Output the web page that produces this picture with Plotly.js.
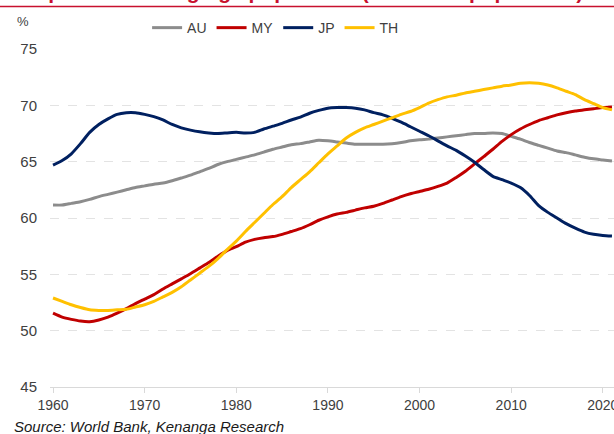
<!DOCTYPE html>
<html>
<head>
<meta charset="utf-8">
<script src="https://cdn.plot.ly/plotly-3.0.1.min.js"></script>
<style>
  html, body { margin: 0; padding: 0; background: #fff; }
  #chart { width: 614px; height: 434px; }
</style>
</head>
<body>
<div id="chart"></div>
<script>
// Years 1960..2021
const years = [];
for (let y = 1960; y <= 2021; y++) years.push(y);

const AU = [61.15,61.15,61.3,61.45,61.65,61.9,62.1,62.3,62.5,62.7,
            62.85,63.0,63.1,63.3,63.55,63.8,64.1,64.4,64.75,65.0,
            65.2,65.4,65.6,65.85,66.1,66.3,66.5,66.6,66.75,66.9,
            66.85,66.75,66.65,66.55,66.55,66.55,66.55,66.6,66.7,66.85,
            66.95,67.0,67.1,67.2,67.3,67.4,67.5,67.5,67.55,67.5,
            67.25,67.0,66.7,66.45,66.2,65.95,65.8,65.6,65.4,65.25,
            65.15,65.05];

const MY = [51.55,51.2,51.0,50.85,50.8,50.95,51.2,51.55,51.95,52.4,
            52.8,53.2,53.7,54.15,54.6,55.05,55.55,56.05,56.6,57.1,
            57.45,57.85,58.1,58.25,58.35,58.55,58.8,59.05,59.4,59.8,
            60.1,60.35,60.5,60.7,60.9,61.05,61.3,61.6,61.9,62.15,
            62.35,62.55,62.8,63.1,63.6,64.15,64.8,65.45,66.1,66.8,
            67.4,67.9,68.3,68.65,68.9,69.15,69.35,69.5,69.6,69.7,
            69.8,69.85];

const JP = [64.7,65.1,65.7,66.6,67.6,68.3,68.8,69.2,69.35,69.35,
            69.2,69.0,68.7,68.3,68.0,67.8,67.65,67.55,67.5,67.55,
            67.6,67.55,67.6,67.9,68.15,68.4,68.7,68.95,69.3,69.55,
            69.75,69.8,69.8,69.75,69.6,69.35,69.15,68.85,68.5,68.1,
            67.7,67.3,66.85,66.4,66.0,65.5,64.95,64.3,63.7,63.4,
            63.1,62.7,62.0,61.1,60.5,60.0,59.5,59.1,58.75,58.55,
            58.45,58.4];

const TH = [52.9,52.6,52.3,52.05,51.85,51.8,51.8,51.85,51.9,52.1,
            52.3,52.6,53.0,53.4,53.9,54.5,55.1,55.7,56.4,57.2,
            57.95,58.8,59.6,60.4,61.2,61.9,62.7,63.4,64.1,64.9,
            65.7,66.4,67.1,67.6,68.0,68.3,68.6,68.9,69.2,69.45,
            69.8,70.2,70.5,70.75,70.9,71.1,71.25,71.4,71.55,71.7,
            71.8,71.95,72.0,71.95,71.8,71.55,71.25,70.95,70.5,70.15,
            69.8,69.6];

const seriesNames = ["AU", "MY", "JP", "TH"];
const seriesData = [AU, MY, JP, TH];
const seriesColors = ["#8c8c8c", "#c00000", "#002060", "#ffc000"];

const xTicks = [1960, 1970, 1980, 1990, 2000, 2010, 2020];
const yTicks = [45, 50, 55, 60, 65, 70, 75];

const titleText = "Graph 10: Working-age population (% of total population)";
const sourceText = "Source: World Bank, Kenanga Research";

const traces = seriesNames.map((n, i) => ({
  type: "scatter",
  mode: "lines",
  name: n,
  x: years,
  y: seriesData[i],
  line: { color: seriesColors[i], width: 3, shape: "spline", smoothing: 0.6 },
  hoverinfo: "skip"
}));

const font = "Liberation Sans, Arial, sans-serif";

const layout = {
  width: 614,
  height: 434,
  margin: { l: 50, r: 0, t: 49, b: 47, pad: 0 },
  paper_bgcolor: "#ffffff",
  plot_bgcolor: "#ffffff",
  font: { family: font, size: 13, color: "#404040" },
  showlegend: true,
  legend: {
    orientation: "h",
    x: 0.40, xanchor: "center",
    y: 1.062, yanchor: "middle",
    font: { family: font, size: 14, color: "#404040" },
    bgcolor: "rgba(0,0,0,0)",
    itemwidth: 30,
    tracegroupgap: 0
  },
  xaxis: {
    range: [1959.67, 2021.22],
    tickmode: "array",
    tickvals: xTicks,
    ticktext: xTicks.map(String),
    showgrid: false,
    zeroline: false,
    showline: true,
    linecolor: "#d9d9d9",
    linewidth: 1,
    ticks: "outside",
    ticklen: 5,
    tickcolor: "#d9d9d9",
    ticklabeloverflow: "allow",
    tickfont: { family: font, size: 14, color: "#404040" }
  },
  yaxis: {
    range: [45, 75],
    tickmode: "array",
    tickvals: yTicks,
    ticktext: yTicks.map(String),
    showgrid: true,
    gridcolor: "#e3e3e3",
    griddash: "dash",
    gridwidth: 1,
    zeroline: false,
    showline: false,
    ticks: "",
    ticklabelstandoff: 12,
    tickfont: { family: font, size: 15, color: "#404040" }
  },
  shapes: [
    {
      type: "line", xref: "paper", yref: "paper",
      x0: -0.2, x1: 1.2, y0: 1.1257, y1: 1.1257,
      line: { color: "#c8102e", width: 1.5 }
    }
  ],
  annotations: [
    {
      text: "<b>" + titleText + "</b>",
      xref: "paper", yref: "paper",
      x: -0.071, y: 1.129,
      xanchor: "left", yanchor: "bottom",
      showarrow: false,
      font: { family: font, size: 21, color: "#c8102e" }
    },
    {
      text: "%",
      xref: "paper", yref: "paper",
      x: -0.048, y: 1.08,
      xanchor: "center", yanchor: "middle",
      showarrow: false,
      font: { family: font, size: 13, color: "#404040" }
    },
    {
      text: "<i>" + sourceText + "</i>",
      xref: "paper", yref: "paper",
      x: -0.0674, y: -0.118,
      xanchor: "left", yanchor: "middle",
      showarrow: false,
      font: { family: font, size: 15, color: "#1a1a1a" }
    }
  ]
};

Plotly.newPlot("chart", traces, layout, { displayModeBar: false, staticPlot: true });
</script>
</body>
</html>
